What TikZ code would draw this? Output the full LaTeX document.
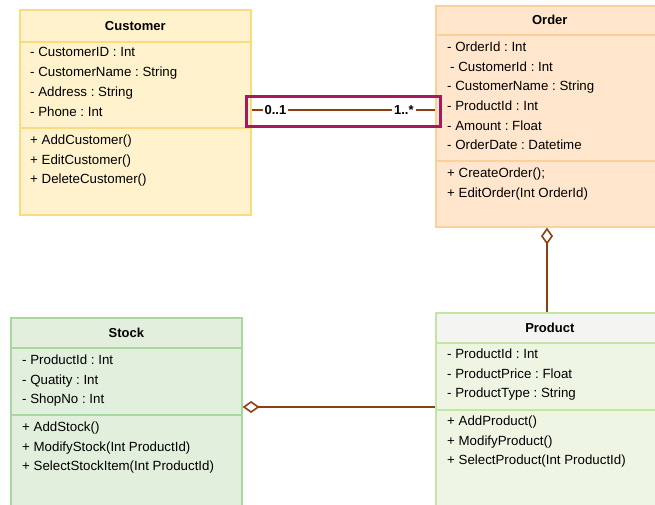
\documentclass[tikz,border=0pt]{standalone}
\usepackage{fontspec}
\setmainfont{Liberation Sans}
\usetikzlibrary{arrows.meta}
\frenchspacing
\definecolor{custfill}{HTML}{FFF2CC}
\definecolor{custline}{HTML}{FBDB7F}
\definecolor{ordfill}{HTML}{FFE6CC}
\definecolor{ordline}{HTML}{FDCF99}
\definecolor{stockfill}{HTML}{E1EFDC}
\definecolor{stockline}{HTML}{A8D7A0}
\definecolor{prodhead}{HTML}{F4F5F2}
\definecolor{prodfill}{HTML}{EEF6E3}
\definecolor{prodline}{HTML}{C3E6A6}
\definecolor{linkbrown}{HTML}{8E3F12}
\definecolor{markred}{HTML}{A8175F}

\begin{document}
\begin{tikzpicture}[x=1pt, y=-1pt,
    cell/.style={rectangle, anchor=north west, inner sep=0pt, line width=1.6pt,
                 font=\fontsize{13}{15}\selectfont\bfseries},
    cust/.style={cell, draw=custline, fill=custfill, minimum width=231pt},
    ord/.style={cell, draw=ordline, fill=ordfill, minimum width=228pt},
    stock/.style={cell, draw=stockline, fill=stockfill, minimum width=231pt},
    prod/.style={cell, draw=prodline, fill=prodfill, minimum width=228pt},
    members/.style={anchor=north west, inner sep=0pt, align=left,
                    font=\fontsize{13.3}{19.7}\selectfont},
    link/.style={line width=1.6pt, linkbrown},
    aggr/.style={link, {Diamond[open, length=17pt, width=12pt]}-},
    mult/.style={fill=white, inner sep=2pt, text=black,
                 font=\fontsize{13}{15}\selectfont\bfseries}
  ]
  \useasboundingbox (0,0) rectangle (655,504);
  \clip (0,0) rectangle (655,504);
  \fill[white] (0,0) rectangle (655,504);

  % Customer
  \node[cust, minimum height=32pt] (custH) at (19,9) {Customer};
  \node[cust, minimum height=86pt] (custA) at (19,41) {};
  \node[cust, minimum height=87pt] (custM) at (19,127) {};
  \node[members] (custAtt) at (30,47.5) {- CustomerID : Int\\- CustomerName : String\\- Address : String\\- Phone : Int};
  \node[members] (custOps) at (30,134.5) {+ AddCustomer()\\+ EditCustomer()\\+ DeleteCustomer()};

  % Order
  \node[ord, minimum height=29pt] (ordH) at (435,5) {Order};
  \node[ord, minimum height=126pt] (ordA) at (435,34) {};
  \node[ord, minimum height=66pt] (ordM) at (435,160) {};
  \node[members] (ordAtt) at (447,41.5) {- OrderId : Int\\\hspace{3pt}- CustomerId : Int\\- CustomerName : String\\- ProductId : Int\\- Amount : Float\\- OrderDate : Datetime};
  \node[members] (ordOps) at (447,167.5) {+ CreateOrder();\\+ EditOrder(Int OrderId)};

  % Stock
  \node[stock, minimum height=30pt] (stockH) at (10,317) {Stock};
  \node[stock, minimum height=67pt] (stockA) at (10,347) {};
  \node[stock, minimum height=100pt] (stockM) at (10,414) {};
  \node[members] (stockAtt) at (22,354.5) {- ProductId : Int\\- Quatity : Int\\- ShopNo : Int};
  \node[members] (stockOps) at (22,421.5) {+ AddStock()\\+ ModifyStock(Int ProductId)\\+ SelectStockItem(Int ProductId)};

  % Product
  \node[prod, fill=prodhead, minimum height=30pt] (prodH) at (435,312) {Product};
  \node[prod, minimum height=67pt] (prodA) at (435,342) {};
  \node[prod, minimum height=100pt] (prodM) at (435,409) {};
  \node[members] (prodAtt) at (447,348.5) {- ProductId : Int\\- ProductPrice : Float\\- ProductType : String};
  \node[members] (prodOps) at (447,415.5) {+ AddProduct()\\+ ModifyProduct()\\+ SelectProduct(Int ProductId)};

  % links
  \coordinate (assoc) at (343,110);
  \coordinate (stocklink) at (343,407);
  \draw[link] (custA.east |- assoc) -- (ordA.west |- assoc)
    node[mult, pos=0.13] (multC) {0..1}
    node[mult, pos=0.83] (multO) {1..*};
  \draw[markred, line width=3pt] (246,96) rectangle (440,126);
  \draw[aggr] (ordM.south -| 547,0) -- (prodH.north -| 547,0);
  \draw[aggr] (stockA.east |- stocklink) -- (prodA.west |- stocklink);
\end{tikzpicture}
\end{document}
